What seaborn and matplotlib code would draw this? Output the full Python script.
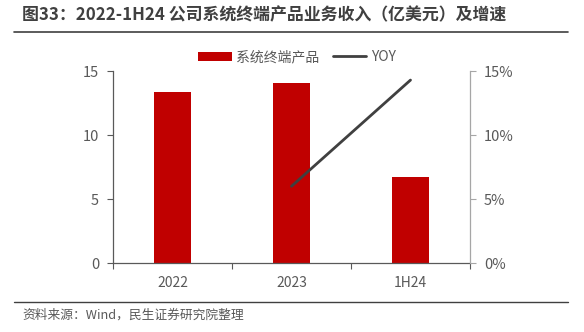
import matplotlib
matplotlib.use("Agg")
import matplotlib.pyplot as plt
import seaborn as sns
import pandas as pd
from matplotlib.lines import Line2D
from matplotlib.patches import Patch
from matplotlib.ticker import FuncFormatter, FixedLocator

categories = ["2022", "2023", "1H24"]
revenue = [13.4, 14.1, 6.7]          # 系统终端产品收入（亿美元）
yoy = [None, 6.0, 14.3]              # 同比增速（%）

title = "图33：2022-1H24 公司系统终端产品业务收入（亿美元）及增速"
source = "资料来源：Wind，民生证券研究院整理"

sns.set_theme(style="white")
plt.rcParams["font.family"] = ["Noto Sans CJK SC", "DejaVu Sans"]
plt.rcParams["axes.unicode_minus"] = False

RED = "#C00000"
LINE = "#404040"
TEXT = "#595959"

df = pd.DataFrame({"cat": categories, "rev": revenue, "yoy": yoy})
df["pos"] = range(len(df))

fig = plt.figure(figsize=(5.84, 3.32), dpi=100)
ax = fig.add_axes([0.1935, 0.2078, 0.6113, 0.578])

sns.barplot(data=df, x="cat", y="rev", color=RED, width=0.31,
            saturation=1, linewidth=0, ax=ax, zorder=2)
ax.set_xlim(-0.5, 2.5)
ax.set_ylim(0, 15)
ax.set_yticks([0, 5, 10, 15])
ax.set_xlabel("")
ax.set_ylabel("")

# category labels centred, tick marks on the boundaries
ax.xaxis.set_major_locator(FixedLocator([0, 1, 2]))
ax.set_xticklabels(categories)
ax.xaxis.set_minor_locator(FixedLocator([-0.5, 0.5, 1.5, 2.5]))
ax.tick_params(axis="x", which="major", length=0, pad=9, labelsize=10, labelcolor=TEXT)
ax.tick_params(axis="x", which="minor", length=4, width=0.8, color="#595959",
               direction="out", bottom=True)
ax.tick_params(axis="y", which="major", length=4, width=0.8, color="#595959",
               direction="out", left=True, labelsize=10.5, labelcolor=TEXT, pad=6)

for s in ["top", "right"]:
    ax.spines[s].set_visible(False)
for s in ["left", "bottom"]:
    ax.spines[s].set_color("#595959")
    ax.spines[s].set_linewidth(0.9)

ax2 = ax.twinx()
sns.lineplot(data=df.dropna(), x="pos", y="yoy", color=LINE, linewidth=2,
             ax=ax2, zorder=3)
ax2.set_ylim(0, 15)
ax2.set_yticks([0, 5, 10, 15])
ax2.yaxis.set_major_formatter(FuncFormatter(lambda v, p: f"{v:.0f}%"))
ax2.set_ylabel("")
ax2.set_xlabel("")
ax2.tick_params(axis="y", length=4, width=0.8, color="#A6A6A6", direction="out",
                right=True, labelsize=10.5, labelcolor=TEXT, pad=6)
for s in ["top", "left", "bottom"]:
    ax2.spines[s].set_visible(False)
ax2.spines["right"].set_color("#A6A6A6")
ax2.spines["right"].set_linewidth(0.9)
ax2.set_xlim(-0.5, 2.5)

handles = [Patch(facecolor=RED, edgecolor="none"),
           Line2D([0], [0], color=LINE, linewidth=2)]
fig.legend(handles, ["系统终端产品", "YOY"], loc="center",
           bbox_to_anchor=(297 / 584, 1 - 57 / 332), ncol=2, frameon=False,
           fontsize=10, labelcolor=TEXT, handlelength=2.4, handleheight=0.6,
           columnspacing=1.0, handletextpad=0.3)

fig.text(22 / 584, 1 - 15 / 332, title, fontsize=12.2, fontweight="bold",
         color="#404040", va="center", ha="left")
fig.add_artist(Line2D([14 / 584, 568 / 584], [1 - 32 / 332, 1 - 32 / 332],
                      color="#404040", linewidth=1.2))
fig.add_artist(Line2D([14 / 584, 568 / 584], [1 - 302 / 332, 1 - 302 / 332],
                      color="#404040", linewidth=1.0))
fig.text(22 / 584, 1 - 315 / 332, source, fontsize=9.2, color=TEXT,
         va="center", ha="left")

fig.savefig("out.png", dpi=100)
